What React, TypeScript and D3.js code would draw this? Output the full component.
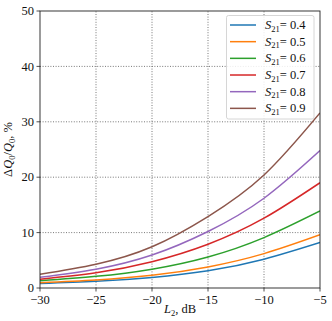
import React from "react";
import * as d3 from "d3";

const xValues = [-30, -25, -20, -15, -10, -5];
const s21Labels = ["0.4", "0.5", "0.6", "0.7", "0.8", "0.9"];
const s04 = [0.8, 1.2, 1.9, 3.1, 5.2, 8.2];
const s05 = [0.95, 1.45, 2.3, 3.8, 6.2, 9.6];
const s06 = [1.3, 2.1, 3.4, 5.6, 9.1, 13.9];
const s07 = [1.6, 2.75, 4.75, 7.9, 12.6, 19.0];
const s08 = [1.95, 3.4, 5.96, 10.2, 16.2, 24.8];
const s09 = [2.5, 4.3, 7.45, 12.9, 20.4, 31.6];
const seriesValues = [s04, s05, s06, s07, s08, s09];
const colors = ["#1f77b4", "#ff7f0e", "#2ca02c", "#d62728", "#9467bd", "#8c564b"];
const xTicks = [-30, -25, -20, -15, -10, -5];
const yTicks = [0, 10, 20, 30, 40, 50];

const width = 332;
const height = 321;
const margin = { left: 40, right: 12, top: 11, bottom: 33 };
const font = "'Liberation Serif', 'DejaVu Serif', serif";

function App() {
  const x = d3.scaleLinear().domain([-30, -5]).range([margin.left, width - margin.right]);
  const y = d3.scaleLinear().domain([0, 50]).range([height - margin.bottom, margin.top]);

  const line = d3
    .line<number>()
    .x((_, i) => x(xValues[i]))
    .y((d) => y(d))
    .curve(d3.curveNatural);

  const fmt = (v: number) => (v < 0 ? "\u2212" + Math.abs(v) : String(v));

  // legend
  const lgX = 226.5;
  const lgY = 15.5;
  const lgW = 87.5;
  const lgH = 103.5;
  const rowH = 16.67;

  return (
    <svg
      width={width}
      height={height}
      style={{ position: "absolute", left: 0, top: 0, background: "#fff" }}
      fontFamily={font}
    >
      <defs>
        <clipPath id="plot">
          <rect x={x(-30)} y={y(50)} width={x(-5) - x(-30)} height={y(0) - y(50)} />
        </clipPath>
      </defs>

      {/* grid */}
      {xTicks.slice(1, -1).map((t) => (
        <line key={"gx" + t} x1={x(t)} x2={x(t)} y1={y(0)} y2={y(50)}
          stroke="#555" strokeWidth={0.8} strokeDasharray="1,1.6" />
      ))}
      {yTicks.slice(1, -1).map((t) => (
        <line key={"gy" + t} x1={x(-30)} x2={x(-5)} y1={y(t)} y2={y(t)}
          stroke="#555" strokeWidth={0.8} strokeDasharray="1,1.6" />
      ))}

      {/* curves */}
      <g clipPath="url(#plot)">
        {seriesValues.map((vals, i) => (
          <path key={i} d={line(vals) || ""} fill="none" stroke={colors[i]} strokeWidth={1.5} />
        ))}
      </g>

      {/* frame */}
      <rect x={x(-30)} y={y(50)} width={x(-5) - x(-30)} height={y(0) - y(50)}
        fill="none" stroke="#222" strokeWidth={0.9} />

      {/* x ticks */}
      {xTicks.map((t) => (
        <g key={"xt" + t}>
          <line x1={x(t)} x2={x(t)} y1={y(0)} y2={y(0) + 3.5} stroke="#222" strokeWidth={0.8} />
          <text x={x(t)} y={y(0) + 16} fontSize={12.5} textAnchor="middle" fill="#111">
            {fmt(t)}
          </text>
        </g>
      ))}
      {/* y ticks */}
      {yTicks.map((t) => (
        <g key={"yt" + t}>
          <line x1={x(-30) - 3.5} x2={x(-30)} y1={y(t)} y2={y(t)} stroke="#222" strokeWidth={0.8} />
          <text x={x(-30) - 6} y={y(t) + 4.2} fontSize={12.5} textAnchor="end" fill="#111">
            {fmt(t)}
          </text>
        </g>
      ))}

      {/* axis labels */}
      <text x={(x(-30) + x(-5)) / 2} y={313} fontSize={12.5} textAnchor="middle" fill="#111">
        <tspan fontStyle="italic">L</tspan>
        <tspan fontSize={8.5} dy={2.5}>2</tspan>
        <tspan dy={-2.5}>, dB</tspan>
      </text>
      <text transform={`translate(12,${(y(0) + y(50)) / 2}) rotate(-90)`} fontSize={12.5}
        textAnchor="middle" fill="#111">
        <tspan>Δ</tspan>
        <tspan fontStyle="italic">Q</tspan>
        <tspan fontSize={8.5} dy={2.5}>0</tspan>
        <tspan dy={-2.5}>/</tspan>
        <tspan fontStyle="italic">Q</tspan>
        <tspan fontSize={8.5} dy={2.5}>0</tspan>
        <tspan dy={-2.5}>, %</tspan>
      </text>

      {/* legend */}
      <rect x={lgX} y={lgY} width={lgW} height={lgH} rx={2} fill="#fff" fillOpacity={0.85}
        stroke="#ccc" strokeWidth={0.8} />
      {s21Labels.map((lab, i) => {
        const cy = 25 + i * rowH;
        return (
          <g key={"lg" + i}>
            <line x1={230} x2={256} y1={cy} y2={cy} stroke={colors[i]} strokeWidth={1.5} />
            <text x={265} y={cy + 4} fontSize={12.5} fill="#111">
              <tspan fontStyle="italic">S</tspan>
              <tspan fontSize={8.5} dy={2.5}>21</tspan>
              <tspan dy={-2.5}>= {lab}</tspan>
            </text>
          </g>
        );
      })}
    </svg>
  );
}

export default App;
